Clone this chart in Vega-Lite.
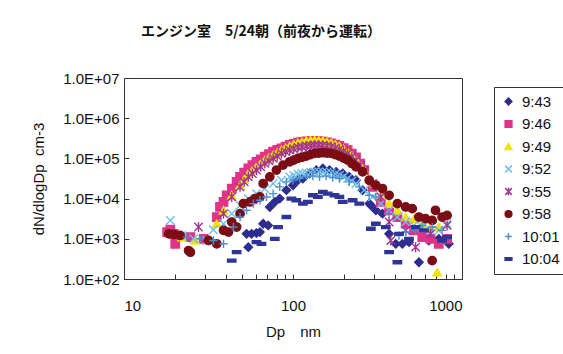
{
  "$schema": "https://vega.github.io/schema/vega-lite/v6.json",
  "autosize": {"type": "none"},
  "width": 338,
  "height": 201,
  "padding": {"left": 124, "top": 78, "right": 101, "bottom": 75},
  "background": "white",
  "title": {"text": "エンジン室　5/24朝（前夜から運転）", "font": "Noto Sans CJK JP", "fontSize": 14, "fontWeight": "bold", "color": "#111", "anchor": "middle", "dx": -32, "offset": 32},
  "config": {"view": {"stroke": "#333", "strokeWidth": 1}},
  "data": {"values": [
    {"t":"9:43","d":53.1,"n":1330},{"t":"9:43","d":56.9,"n":1330},{"t":"9:43","d":60.8,"n":1390},{"t":"9:43","d":63.7,"n":1470},{"t":"9:43","d":54.4,"n":620},{"t":"9:43","d":66.6,"n":2370},{"t":"9:43","d":71.3,"n":2150},{"t":"9:43","d":72.9,"n":6190},{"t":"9:43","d":78.0,"n":8250},{"t":"9:43","d":83.5,"n":10000},{"t":"9:43","d":91.4,"n":16200},{"t":"9:43","d":100,"n":21500},{"t":"9:43","d":107,"n":28700},{"t":"9:43","d":114.5,"n":31600},{"t":"9:43","d":125.3,"n":42200},{"t":"9:43","d":137.2,"n":51100},{"t":"9:43","d":150.2,"n":56200},{"t":"9:43","d":164.3,"n":51100},{"t":"9:43","d":179.9,"n":46400},{"t":"9:43","d":196.9,"n":42200},{"t":"9:43","d":215.4,"n":34800},{"t":"9:43","d":235.8,"n":28700},{"t":"9:43","d":258.1,"n":16200},{"t":"9:43","d":282.5,"n":7500},{"t":"9:43","d":288.9,"n":6810},{"t":"9:43","d":309.2,"n":5110},{"t":"9:43","d":338.4,"n":4220},{"t":"9:43","d":370.4,"n":1330},{"t":"9:43","d":405.4,"n":750},{"t":"9:43","d":443.7,"n":750},{"t":"9:43","d":485.6,"n":825},{"t":"9:43","d":556,"n":261},{"t":"9:43","d":636.7,"n":908},{"t":"9:43","d":728.9,"n":1000},{"t":"9:43","d":834.7,"n":750},
    {"t":"9:46","d":18.0,"n":1470},{"t":"9:46","d":18.8,"n":1680},{"t":"9:46","d":20.1,"n":750},{"t":"9:46","d":19.7,"n":1330},{"t":"9:46","d":24.7,"n":1100},{"t":"9:46","d":29.6,"n":1000},{"t":"9:46","d":35.4,"n":3480},{"t":"9:46","d":37.0,"n":6190},{"t":"9:46","d":38.8,"n":8250},{"t":"9:46","d":40.5,"n":12100},{"t":"9:46","d":43.4,"n":17800},{"t":"9:46","d":46.4,"n":26100},{"t":"9:46","d":48.6,"n":34800},{"t":"9:46","d":51.4,"n":44000},{"t":"9:46","d":54.4,"n":56200},{"t":"9:46","d":57.5,"n":68000},{"t":"9:46","d":60.8,"n":82500},{"t":"9:46","d":64.4,"n":95000},{"t":"9:46","d":68.1,"n":110000},{"t":"9:46","d":72.1,"n":127000},{"t":"9:46","d":76.3,"n":146800},{"t":"9:46","d":80.7,"n":162000},{"t":"9:46","d":85.4,"n":177800},{"t":"9:46","d":90.4,"n":196000},{"t":"9:46","d":95.6,"n":215400},{"t":"9:46","d":101,"n":231000},{"t":"9:46","d":107,"n":246500},{"t":"9:46","d":113,"n":256000},{"t":"9:46","d":119.8,"n":266000},{"t":"9:46","d":127,"n":269000},{"t":"9:46","d":134.1,"n":271300},{"t":"9:46","d":142,"n":267000},{"t":"9:46","d":150.2,"n":261000},{"t":"9:46","d":159,"n":249000},{"t":"9:46","d":168.1,"n":237100},{"t":"9:46","d":178,"n":220000},{"t":"9:46","d":188.2,"n":203400},{"t":"9:46","d":199,"n":181000},{"t":"9:46","d":210.6,"n":161600},{"t":"9:46","d":223,"n":131000},{"t":"9:46","d":235.8,"n":106000},{"t":"9:46","d":250,"n":74000},{"t":"9:46","d":264.1,"n":51100},{"t":"9:46","d":295.6,"n":19600},{"t":"9:46","d":330.8,"n":8250},{"t":"9:46","d":370.4,"n":5110},{"t":"9:46","d":414.6,"n":3480},{"t":"9:46","d":464.2,"n":2370},{"t":"9:46","d":519.6,"n":1620},{"t":"9:46","d":581.7,"n":1100},{"t":"9:46","d":651.2,"n":1000},{"t":"9:46","d":728.9,"n":750},{"t":"9:46","d":816,"n":1000},
    {"t":"9:49","d":22.0,"n":1100},{"t":"9:49","d":26.4,"n":908},{"t":"9:49","d":35.4,"n":2370},{"t":"9:49","d":38.8,"n":5110},{"t":"9:49","d":43.4,"n":12100},{"t":"9:49","d":48.6,"n":21500},{"t":"9:49","d":51.4,"n":30000},{"t":"9:49","d":54.4,"n":42200},{"t":"9:49","d":57.5,"n":51000},{"t":"9:49","d":60.8,"n":61900},{"t":"9:49","d":64.4,"n":75000},{"t":"9:49","d":68.1,"n":90850},{"t":"9:49","d":72.1,"n":105000},{"t":"9:49","d":76.3,"n":121200},{"t":"9:49","d":80.7,"n":140000},{"t":"9:49","d":85.4,"n":161600},{"t":"9:49","d":90.4,"n":181000},{"t":"9:49","d":95.6,"n":203400},{"t":"9:49","d":101,"n":224000},{"t":"9:49","d":107,"n":246500},{"t":"9:49","d":113,"n":261000},{"t":"9:49","d":119.8,"n":276500},{"t":"9:49","d":127,"n":282000},{"t":"9:49","d":134.1,"n":287000},{"t":"9:49","d":142,"n":282000},{"t":"9:49","d":150.2,"n":276500},{"t":"9:49","d":159,"n":261000},{"t":"9:49","d":168.1,"n":246500},{"t":"9:49","d":178,"n":224000},{"t":"9:49","d":188.2,"n":203400},{"t":"9:49","d":199,"n":173000},{"t":"9:49","d":210.6,"n":146800},{"t":"9:49","d":223,"n":118000},{"t":"9:49","d":235.8,"n":94400},{"t":"9:49","d":250,"n":69000},{"t":"9:49","d":264.1,"n":51100},{"t":"9:49","d":295.6,"n":23700},{"t":"9:49","d":330.8,"n":12100},{"t":"9:49","d":370.4,"n":7500},{"t":"9:49","d":414.6,"n":5110},{"t":"9:49","d":464.2,"n":3480},{"t":"9:49","d":519.6,"n":3160},{"t":"9:49","d":581.7,"n":2370},{"t":"9:49","d":651.2,"n":1960},{"t":"9:49","d":728.9,"n":1960},{"t":"9:49","d":712.8,"n":147},
    {"t":"9:52","d":18.8,"n":2870},{"t":"9:52","d":22.0,"n":1210},{"t":"9:52","d":25.8,"n":1000},{"t":"9:52","d":30.9,"n":908},{"t":"9:52","d":33.8,"n":1680},{"t":"9:52","d":38.8,"n":2370},{"t":"9:52","d":43.4,"n":4220},{"t":"9:52","d":48.6,"n":6810},{"t":"9:52","d":54.4,"n":10000},{"t":"9:52","d":60.8,"n":13300},{"t":"9:52","d":68.1,"n":17800},{"t":"9:52","d":76.3,"n":23700},{"t":"9:52","d":85.4,"n":28700},{"t":"9:52","d":95.6,"n":34800},{"t":"9:52","d":101,"n":37600},{"t":"9:52","d":107,"n":40600},{"t":"9:52","d":113,"n":42200},{"t":"9:52","d":119.8,"n":43800},{"t":"9:52","d":127,"n":45000},{"t":"9:52","d":134.1,"n":46400},{"t":"9:52","d":142,"n":46400},{"t":"9:52","d":150.2,"n":46400},{"t":"9:52","d":159,"n":45000},{"t":"9:52","d":168.1,"n":43800},{"t":"9:52","d":178,"n":41000},{"t":"9:52","d":188.2,"n":38300},{"t":"9:52","d":199,"n":35000},{"t":"9:52","d":210.6,"n":31600},{"t":"9:52","d":223,"n":27400},{"t":"9:52","d":235.8,"n":23700},{"t":"9:52","d":264.1,"n":16200},{"t":"9:52","d":295.6,"n":11000},{"t":"9:52","d":330.8,"n":7500},{"t":"9:52","d":370.4,"n":5110},{"t":"9:52","d":414.6,"n":3480},{"t":"9:52","d":464.2,"n":2610},{"t":"9:52","d":519.6,"n":2150},{"t":"9:52","d":581.7,"n":1960},{"t":"9:52","d":651.2,"n":1620},{"t":"9:52","d":728.9,"n":1620},{"t":"9:52","d":816,"n":2370},
    {"t":"9:55","d":27.6,"n":1960},{"t":"9:55","d":38.8,"n":4220},{"t":"9:55","d":43.4,"n":11000},{"t":"9:55","d":48.6,"n":19600},{"t":"9:55","d":51.4,"n":26000},{"t":"9:55","d":54.4,"n":34800},{"t":"9:55","d":57.5,"n":42000},{"t":"9:55","d":60.8,"n":51100},{"t":"9:55","d":64.4,"n":62000},{"t":"9:55","d":68.1,"n":75000},{"t":"9:55","d":72.1,"n":87000},{"t":"9:55","d":76.3,"n":100000},{"t":"9:55","d":80.7,"n":115000},{"t":"9:55","d":85.4,"n":133400},{"t":"9:55","d":90.4,"n":147000},{"t":"9:55","d":95.6,"n":161600},{"t":"9:55","d":101,"n":174000},{"t":"9:55","d":107,"n":188400},{"t":"9:55","d":113,"n":196000},{"t":"9:55","d":119.8,"n":203400},{"t":"9:55","d":127,"n":209000},{"t":"9:55","d":134.1,"n":215400},{"t":"9:55","d":142,"n":213000},{"t":"9:55","d":150.2,"n":211300},{"t":"9:55","d":159,"n":203000},{"t":"9:55","d":168.1,"n":195700},{"t":"9:55","d":178,"n":181000},{"t":"9:55","d":188.2,"n":167900},{"t":"9:55","d":199,"n":150000},{"t":"9:55","d":210.6,"n":133400},{"t":"9:55","d":223,"n":110000},{"t":"9:55","d":235.8,"n":90850},{"t":"9:55","d":250,"n":68000},{"t":"9:55","d":264.1,"n":51100},{"t":"9:55","d":295.6,"n":23700},{"t":"9:55","d":330.8,"n":11000},{"t":"9:55","d":370.4,"n":2610},{"t":"9:55","d":378.8,"n":908},{"t":"9:55","d":464.2,"n":1620},{"t":"9:55","d":531.5,"n":619},{"t":"9:55","d":651.2,"n":1330},{"t":"9:55","d":816,"n":2150},
    {"t":"9:58","d":18.4,"n":1330},{"t":"9:58","d":19.7,"n":1280},{"t":"9:58","d":21.5,"n":1210},{"t":"9:58","d":24.1,"n":511},{"t":"9:58","d":24.7,"n":464},{"t":"9:58","d":31.6,"n":908},{"t":"9:58","d":35.4,"n":750},{"t":"9:58","d":38.8,"n":1620},{"t":"9:58","d":41.5,"n":1470},{"t":"9:58","d":43.4,"n":2610},{"t":"9:58","d":46.4,"n":1960},{"t":"9:58","d":48.6,"n":4220},{"t":"9:58","d":50.8,"n":7500},{"t":"9:58","d":55.6,"n":8250},{"t":"9:58","d":59.5,"n":10000},{"t":"9:58","d":63.7,"n":11000},{"t":"9:58","d":66.6,"n":23700},{"t":"9:58","d":72.9,"n":34800},{"t":"9:58","d":79.8,"n":51100},{"t":"9:58","d":87.3,"n":68100},{"t":"9:58","d":95.6,"n":82500},{"t":"9:58","d":101,"n":91000},{"t":"9:58","d":107,"n":100000},{"t":"9:58","d":113,"n":107000},{"t":"9:58","d":119.8,"n":114400},{"t":"9:58","d":127,"n":124000},{"t":"9:58","d":134.1,"n":133400},{"t":"9:58","d":142,"n":136000},{"t":"9:58","d":150.2,"n":138600},{"t":"9:58","d":159,"n":136000},{"t":"9:58","d":168.1,"n":133400},{"t":"9:58","d":178,"n":124000},{"t":"9:58","d":188.2,"n":114400},{"t":"9:58","d":199,"n":102000},{"t":"9:58","d":210.6,"n":90850},{"t":"9:58","d":223,"n":75000},{"t":"9:58","d":235.8,"n":61900},{"t":"9:58","d":258.1,"n":46400},{"t":"9:58","d":282.5,"n":28700},{"t":"9:58","d":309.2,"n":21500},{"t":"9:58","d":338.4,"n":17800},{"t":"9:58","d":370.4,"n":12100},{"t":"9:58","d":414.6,"n":7500},{"t":"9:58","d":464.2,"n":6190},{"t":"9:58","d":508,"n":5620},{"t":"9:58","d":556,"n":3480},{"t":"9:58","d":608.5,"n":3160},{"t":"9:58","d":666.1,"n":2870},{"t":"9:58","d":696.8,"n":5110},{"t":"9:58","d":762.6,"n":3480},{"t":"9:58","d":816,"n":3830},{"t":"9:58","d":666.1,"n":287},
    {"t":"10:01","d":23.6,"n":1100},{"t":"10:01","d":28.2,"n":1000},{"t":"10:01","d":33.8,"n":908},{"t":"10:01","d":38.8,"n":750},{"t":"10:01","d":44.4,"n":1960},{"t":"10:01","d":48.6,"n":3480},{"t":"10:01","d":53.1,"n":5110},{"t":"10:01","d":58.2,"n":7500},{"t":"10:01","d":63.7,"n":9090},{"t":"10:01","d":69.7,"n":11000},{"t":"10:01","d":76.3,"n":13300},{"t":"10:01","d":83.5,"n":19600},{"t":"10:01","d":91.4,"n":26100},{"t":"10:01","d":100,"n":28700},{"t":"10:01","d":109.4,"n":31600},{"t":"10:01","d":119.8,"n":34800},{"t":"10:01","d":131.1,"n":36200},{"t":"10:01","d":143.6,"n":34800},{"t":"10:01","d":157.1,"n":36200},{"t":"10:01","d":171.9,"n":33500},{"t":"10:01","d":188.2,"n":31600},{"t":"10:01","d":215.4,"n":26100},{"t":"10:01","d":246.7,"n":19600},{"t":"10:01","d":282.5,"n":12100},{"t":"10:01","d":309.2,"n":11000},{"t":"10:01","d":370.4,"n":4220},{"t":"10:01","d":424.1,"n":1210},{"t":"10:01","d":464.2,"n":1470},{"t":"10:01","d":531.5,"n":1620},{"t":"10:01","d":581.7,"n":2150},{"t":"10:01","d":666.1,"n":1960},{"t":"10:01","d":762.6,"n":1620},
    {"t":"10:04","d":43.4,"n":287},{"t":"10:04","d":46.4,"n":464},{"t":"10:04","d":60.8,"n":825},{"t":"10:04","d":65.1,"n":750},{"t":"10:04","d":78.0,"n":1000},{"t":"10:04","d":81.6,"n":1960},{"t":"10:04","d":91.4,"n":3480},{"t":"10:04","d":97.8,"n":10000},{"t":"10:04","d":104.6,"n":9090},{"t":"10:04","d":114.5,"n":7500},{"t":"10:04","d":122.5,"n":8250},{"t":"10:04","d":131.1,"n":12100},{"t":"10:04","d":140.3,"n":11000},{"t":"10:04","d":150.2,"n":14700},{"t":"10:04","d":160.7,"n":13300},{"t":"10:04","d":175.9,"n":12100},{"t":"10:04","d":188.2,"n":11000},{"t":"10:04","d":196.9,"n":8250},{"t":"10:04","d":225.4,"n":9090},{"t":"10:04","d":246.7,"n":7500},{"t":"10:04","d":288.9,"n":1780},{"t":"10:04","d":309.2,"n":2370},{"t":"10:04","d":354,"n":1960},{"t":"10:04","d":370.4,"n":464},{"t":"10:04","d":414.6,"n":261},{"t":"10:04","d":424.1,"n":1330},{"t":"10:04","d":485.6,"n":1000},{"t":"10:04","d":531.5,"n":1960},{"t":"10:04","d":594.9,"n":1620},{"t":"10:04","d":762.6,"n":908},{"t":"10:04","d":816,"n":1100}
  ]},
  "mark": {"type": "point", "filled": true, "size": 70, "strokeWidth": 1.4, "opacity": 1},
  "encoding": {
    "x": {"field": "d", "type": "quantitative",
      "scale": {"type": "log", "domain": [10, 1000], "nice": false},
      "axis": {"title": "Dp　nm", "values": [10,20,30,40,50,60,70,80,90,100,200,300,400,500,600,700,800,900,1000],
        "labelExpr": "datum.value == 10 || datum.value == 100 || datum.value == 1000 ? format(datum.value, 'd') : ''",
        "grid": false, "tickSize": -5, "labelPadding": 24, "domainColor": "#333", "tickColor": "#333",
        "labelFont": "Liberation Sans", "labelFontSize": 15, "labelColor": "#111",
        "titleFont": "Liberation Sans", "titleFontSize": 15, "titleFontWeight": "normal", "titleColor": "#111", "titlePadding": 11}},
    "y": {"field": "n", "type": "quantitative",
      "scale": {"type": "log", "domain": [100, 10000000], "nice": false},
      "axis": {"title": "dN/dlogDp\u00a0\u00a0cm-3", "values": [100,1000,10000,100000,1000000,10000000],
        "labelExpr": "'1.0E+0' + format(round(log(datum.value)/LN10), 'd')",
        "grid": false, "tickSize": -5, "labelPadding": 10, "domainColor": "#333", "tickColor": "#333",
        "labelFont": "Liberation Sans", "labelFontSize": 15, "labelColor": "#111",
        "titleFont": "Liberation Sans", "titleFontSize": 15, "titleFontWeight": "normal", "titleColor": "#111", "titlePadding": 16}},
    "color": {"field": "t", "type": "nominal",
      "scale": {"domain": ["9:43","9:46","9:49","9:52","9:55","9:58","10:01","10:04"],
        "range": ["#2E2C8E","#E0338A","#F2E400","#6CBEEA","#A23591","#7A0E14","#4A8ED0","#2F3596"]},
      "legend": {"title": null, "orient": "none", "legendX": 370, "legendY": 9, "strokeColor": "#333", "fillColor": "#fff",
        "padding": 7, "labelFont": "Liberation Sans", "labelFontSize": 15, "labelColor": "#111", "rowPadding": 6.5, "symbolSize": 45, "labelOffset": 6}},
    "stroke": {"field": "t", "type": "nominal",
      "scale": {"domain": ["9:43","9:46","9:49","9:52","9:55","9:58","10:01","10:04"],
        "range": ["#2E2C8E","#E0338A","#F2E400","#6CBEEA","#A23591","#7A0E14","#4A8ED0","#2F3596"]},
      "legend": {"title": null, "orient": "none", "legendX": 370, "legendY": 9}},
    "shape": {"field": "t", "type": "nominal",
      "scale": {"domain": ["9:43","9:46","9:49","9:52","9:55","9:58","10:01","10:04"],
        "range": ["diamond","square","triangle-up","M-1,-1L1,1M-1,1L1,-1","M-1,-1L1,1M-1,1L1,-1M0,-1.2L0,1.2","circle","M-1,0L1,0M0,-1L0,1","M-1,-0.35L1,-0.35L1,0.35L-1,0.35Z"]},
      "legend": {"title": null, "orient": "none", "legendX": 370, "legendY": 9}}
  }
}
